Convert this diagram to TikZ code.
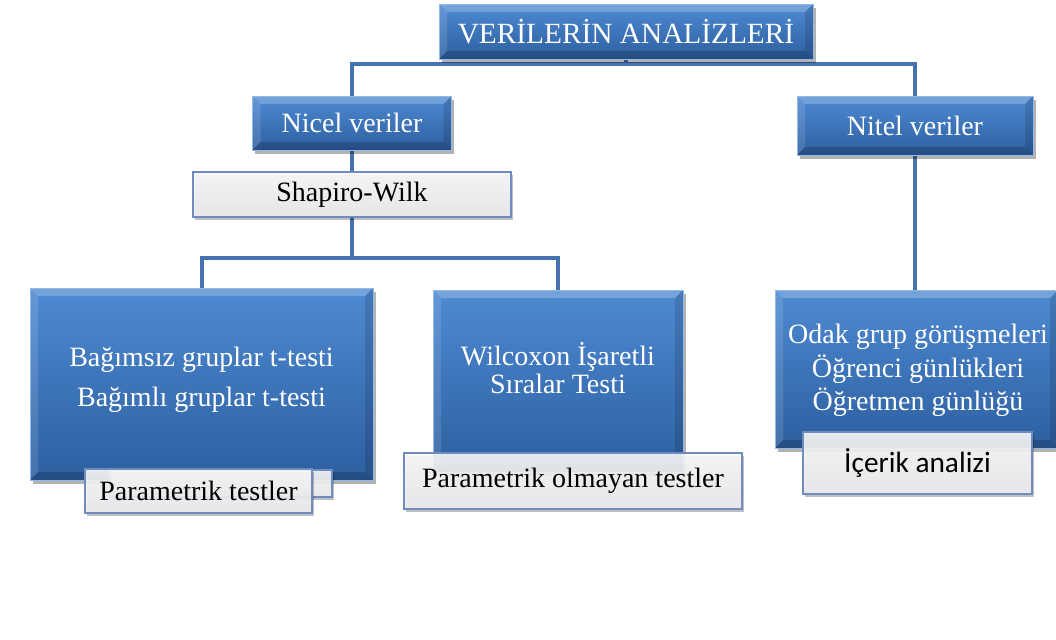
\documentclass[tikz,border=0pt]{standalone}
\usepackage{fontspec}
\setmainfont{Liberation Serif}
\newfontfamily\calibri{Carlito}
\usetikzlibrary{shadows}
\pgfdeclarelayer{background}
\pgfsetlayers{background,main}
\definecolor{boxtop}{RGB}{78,138,210}
\definecolor{boxbot}{RGB}{45,95,160}
\definecolor{connc}{RGB}{70,114,176}
\definecolor{lblborder}{RGB}{110,140,190}
\definecolor{lbltop}{RGB}{250,250,250}
\definecolor{lblbot}{RGB}{234,235,238}
\tikzset{
  bluebox/.style={rectangle, inner sep=0pt, top color=boxtop, bottom color=boxbot,
    draw=boxtop!60!white, line width=0.6pt,
    drop shadow={shadow xshift=2pt, shadow yshift=-3pt, opacity=0.3, fill=black},
    path picture={
      \fill[white,opacity=0.22] (path picture bounding box.north west) -- (path picture bounding box.north east)
        -- ([xshift=-6pt,yshift=-6pt]path picture bounding box.north east) -- ([xshift=6pt,yshift=-6pt]path picture bounding box.north west) -- cycle;
      \fill[white,opacity=0.12] (path picture bounding box.north west) -- ([xshift=6pt,yshift=-6pt]path picture bounding box.north west)
        -- ([xshift=6pt,yshift=6pt]path picture bounding box.south west) -- (path picture bounding box.south west) -- cycle;
      \fill[black,opacity=0.12] (path picture bounding box.north east) -- ([xshift=-6pt,yshift=-6pt]path picture bounding box.north east)
        -- ([xshift=-6pt,yshift=6pt]path picture bounding box.south east) -- (path picture bounding box.south east) -- cycle;
      \fill[black,opacity=0.18] (path picture bounding box.south west) -- ([xshift=6pt,yshift=6pt]path picture bounding box.south west)
        -- ([xshift=-6pt,yshift=6pt]path picture bounding box.south east) -- (path picture bounding box.south east) -- cycle;
    }},
  bluetxt/.style={text=white, font=\fontsize{21}{25}\selectfont},
  bigtxt/.style={text=white, align=center, inner sep=0pt},
  lblbox/.style={rectangle, inner sep=0pt, top color=lbltop, bottom color=lblbot,
    fill opacity=0.9, text opacity=1, draw=lblborder, line width=0.8pt, text=black,
    font=\fontsize{21}{25}\selectfont,
    drop shadow={shadow xshift=1.5pt, shadow yshift=-2pt, opacity=0.25, fill=black}},
  conn/.style={draw=connc, line width=3pt},
}
\begin{document}
\begin{tikzpicture}[x=0.75pt,y=-0.75pt]
\useasboundingbox (0,0) rectangle (1056,639);
\begin{scope}
\clip (0,0) rectangle (1056,639);
% top level
\node[bluebox, bluetxt, font=\fontsize{22}{25}\selectfont, minimum width=374*0.75pt, minimum height=55*0.75pt] (top) at (626,31.5) {VERİLERİN ANALİZLERİ};
\node[bluebox, bluetxt, minimum width=199*0.75pt, minimum height=54*0.75pt] (nicel) at (352,123) {Nicel veriler};
\node[bluebox, bluetxt, minimum width=236*0.75pt, minimum height=59*0.75pt] (nitel) at (915,125.5) {Nitel veriler};
\node[lblbox, minimum width=318*0.75pt, minimum height=45*0.75pt] (shap) at (352,194.5) {Shapiro-Wilk};
% big boxes
\node[bluebox, minimum width=343*0.75pt, minimum height=192*0.75pt] (left) at (201.5,384) {};
\node[bigtxt, font=\fontsize{21}{30}\selectfont] (lefttxt) at (201.5,380) {Bağımsız gruplar t-testi\\Bağımlı gruplar t-testi};
\node[bluebox, minimum width=250*0.75pt, minimum height=182*0.75pt] (mid) at (558,381) {};
\node[bigtxt, font=\fontsize{21}{21.5}\selectfont] (midtxt) at (558,368) {Wilcoxon İşaretli\\Sıralar Testi};
\node[bluebox, minimum width=283*0.75pt, minimum height=158*0.75pt] (right) at (916.5,369) {};
\node[bigtxt, font=\fontsize{21}{25}\selectfont] (righttxt) at (918,370.5) {Odak grup görüşmeleri\\Öğrenci günlükleri\\Öğretmen günlüğü};
% labels
\node[lblbox, minimum width=222*0.75pt, minimum height=27*0.75pt] (ghost) at (221,483.5) {};
\node[lblbox, minimum width=227*0.75pt, minimum height=44*0.75pt] (param) at (198.5,491) {Parametrik testler};
\node[lblbox, minimum width=338*0.75pt, minimum height=56*0.75pt] (paramol) at (573,481) {Parametrik olmayan testler};
\node[lblbox, minimum width=229*0.75pt, minimum height=62*0.75pt, font=\calibri\fontsize{22}{25}\selectfont] (icerik) at (917.5,463) {İçerik analizi};
% connectors
\coordinate (hub1) at (626,64);
\coordinate (hub2) at (352,258);
\begin{pgfonlayer}{background}
\draw[conn] (top.south) -- (hub1);
\draw[conn] (nicel.north) |- (hub1);
\draw[conn] (nitel.north) |- (hub1);
\draw[conn] (nicel.south) -- (shap.north);
\draw[conn] (shap.south) -- (hub2);
\draw[conn] (left.north) |- (hub2);
\draw[conn] (mid.north) |- (hub2);
\draw[conn] (nitel.south) -- (nitel.south |- right.north);
\end{pgfonlayer}
\end{scope}
\end{tikzpicture}
\end{document}
